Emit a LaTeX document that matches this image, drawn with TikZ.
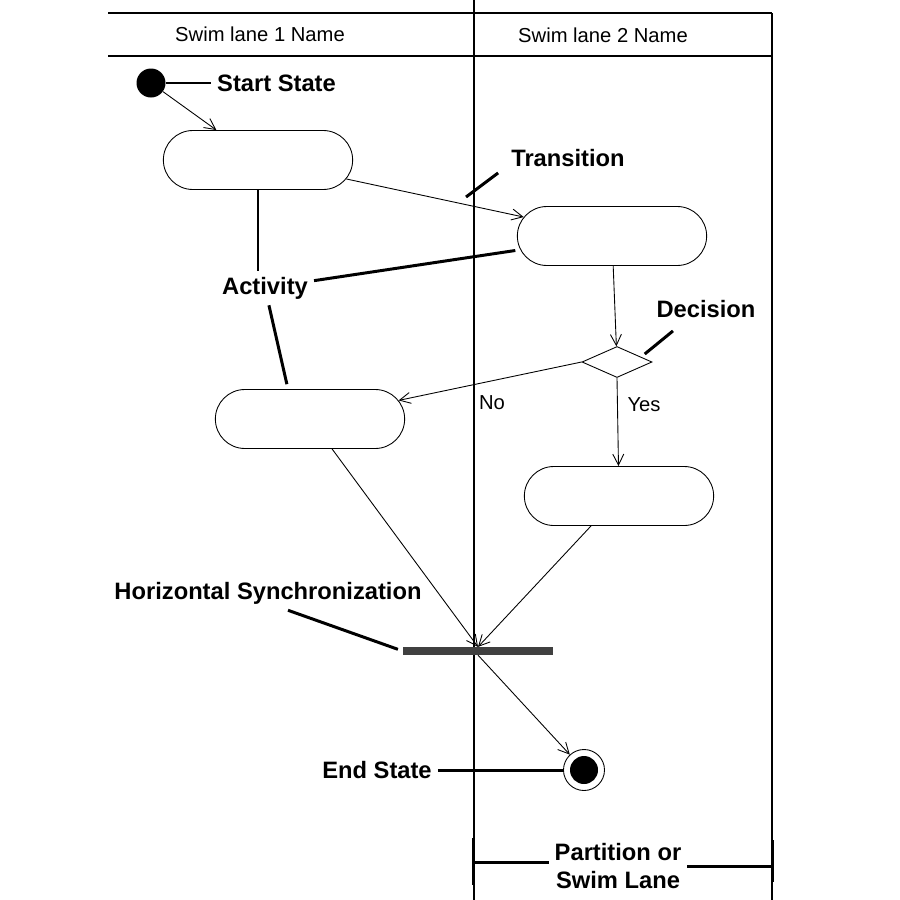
\documentclass[tikz,border=0pt]{standalone}
\usepackage{fontspec}
\setmainfont{Liberation Sans}
\usetikzlibrary{shapes,arrows.meta,positioning,calc}

\begin{document}
\begin{tikzpicture}[x=0.2mm, y=-0.2mm,
    lane/.style={line width=0.6pt},
    flow/.style={line width=0.5pt, -{Straight Barb[length=2.2mm,width=2.2mm]}},
    activity/.style={rounded rectangle, draw, line width=0.5pt, minimum width=40.2mm, minimum height=11.8mm},
    pointer/.style={line width=1.7pt},
    callout/.style={font=\fontsize{13.5}{15.5}\selectfont\bfseries},
    lanetext/.style={font=\fontsize{11.5}{14}\selectfont}]
    \useasboundingbox (0,0) rectangle (900,900);

    % Swim lanes
    \draw[lane] (108,13) -- (772,13);
    \draw[lane] (108,56) -- (772,56);
    \draw[lane] (474,0) -- (474,900);
    \draw[lane] (772,13) -- (772,900);
    \node[lanetext] (lane1) at (260,34) {Swim lane 1 Name};
    \node[lanetext] (lane2) at (603,35) {Swim lane 2 Name};

    % States and activities
    \node[circle, fill, minimum size=5.8mm, inner sep=0] (start) at (151,83) {};
    \node[activity] (a1) at (258,160) {};
    \node[activity] (a2) at (612,236) {};
    \node[diamond, draw, line width=0.5pt, minimum width=14mm, minimum height=6.2mm, inner sep=0] (dec) at (617,362) {};
    \node[activity] (a3) at (310,419) {};
    \node[activity] (a4) at (619,496) {};
    \node[fill=black!75, minimum width=30mm, minimum height=1.5mm, inner sep=0] (sync) at (478,651) {};
    \node[circle, draw, line width=0.5pt, minimum size=8.2mm, inner sep=0] (end) at (584,770) {};
    \fill (end) circle (2.8mm);

    % Transitions
    \draw[flow] (start) -- (a1);
    \draw[flow] (a1) -- (a2);
    \draw[flow] (a2) -- (dec);
    \draw[flow] (dec.west) -- (a3);
    \draw[flow] (dec.south) -- (a4);
    \draw[flow] (a3) -- (sync.north);
    \draw[flow] (a4) -- (sync.north);
    \draw[flow] (sync.south) -- (end);
    \node[lanetext] (no) at (492,403) {No};
    \node[lanetext] (yes) at (644,405) {Yes};

    % Callouts
    \node[callout, anchor=west] (startlbl) at (211,83) {Start State};
    \draw[pointer] (start) -- (startlbl);

    \node[callout] (translbl) at (568,158) {Transition};
    \coordinate (transtip) at (466,197);
    \draw[pointer] ([xshift=-1.4mm]translbl.south west) -- (transtip);

    \node[callout] (actlbl) at (265,288) {Activity};
    \draw[pointer] (a1.south) -- (a1.south |- actlbl.north);
    \draw[pointer, shorten >=1mm] (actlbl) -- (a2);
    \draw[pointer, shorten >=1mm] (actlbl) -- ([xshift=-4.4mm]a3.north);

    \node[callout] (declbl) at (706,309) {Decision};
    \draw[pointer] ([xshift=-6.6mm,yshift=-1.4mm]declbl.south) -- ([xshift=2mm]dec.north east);

    \node[callout] (hslbl) at (268,593) {Horizontal Synchronization};
    \draw[pointer, shorten >=1mm] ([xshift=4mm]hslbl.south) -- (sync.west);

    \node[callout] (endlbl) at (377,770) {End State};
    \draw[pointer] (endlbl) -- (end);

    % Partition
    \node[callout, align=center] (partlbl) at (618,866) {Partition or\\Swim Lane};
    \coordinate (partl) at (473,862);
    \coordinate (partr) at (772,866);
    \draw[pointer] (partl) -- (partl -| partlbl.west);
    \draw[pointer] (partr -| partlbl.east) -- (partr);
    \draw[pointer] ($(partl)+(0,-24)$) -- ($(partl)+(0,23)$);
    \draw[pointer] ($(partr)+(0,-26)$) -- ($(partr)+(0,16)$);
\end{tikzpicture}
\end{document}
